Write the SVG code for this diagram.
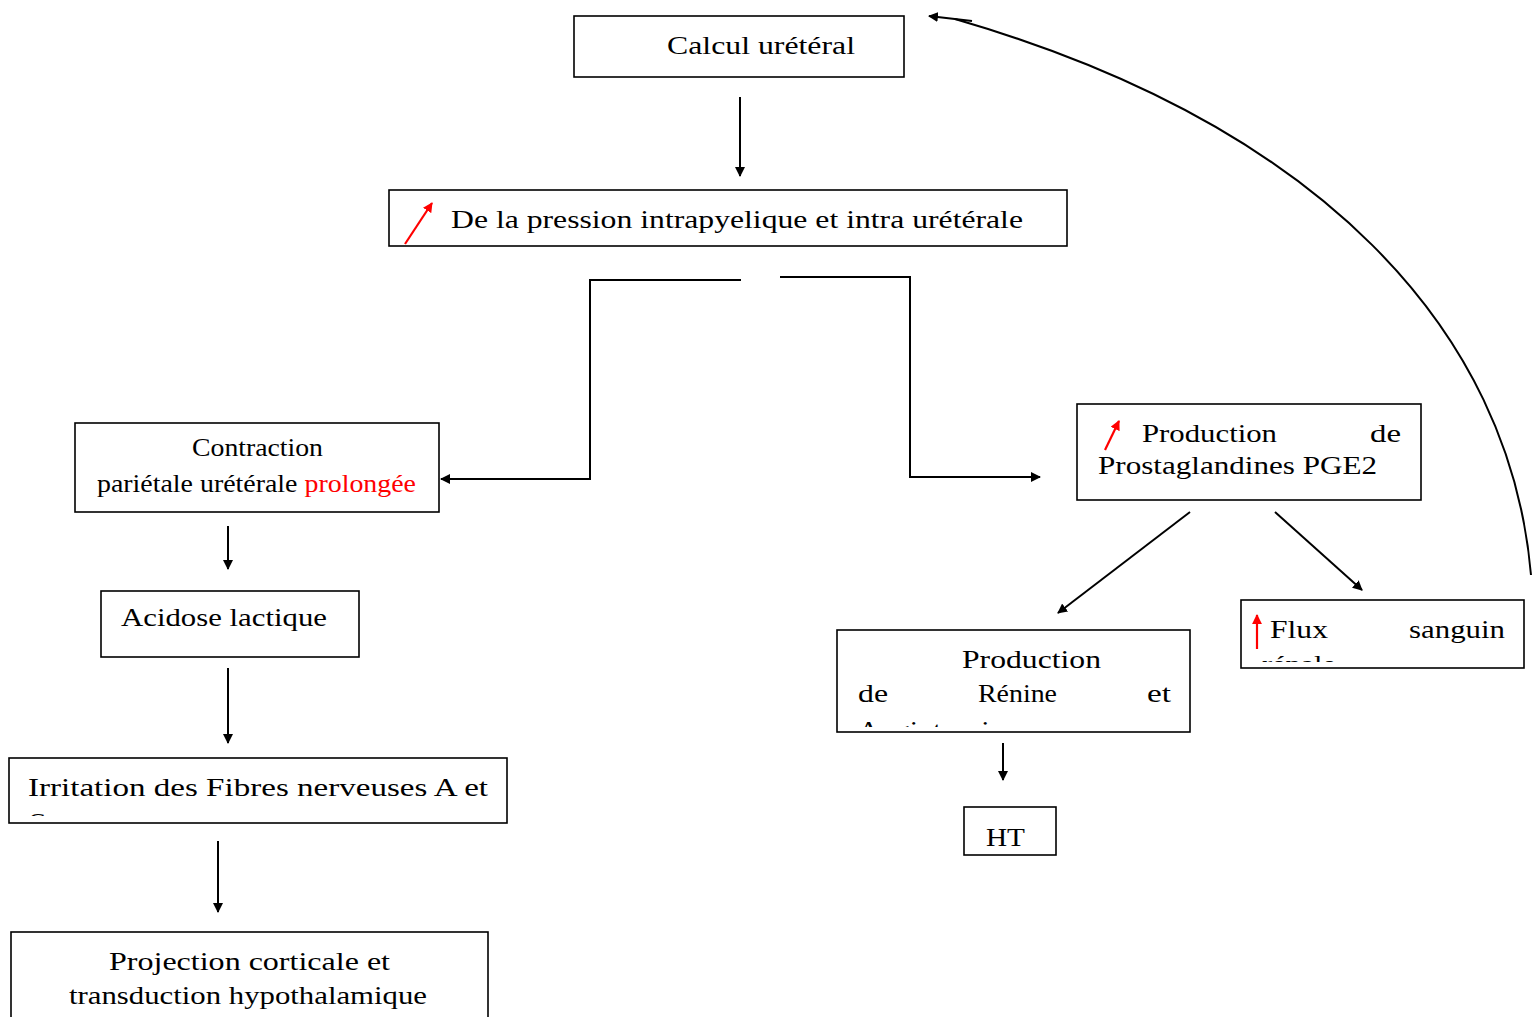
<svg xmlns="http://www.w3.org/2000/svg" width="1532" height="1017" viewBox="0 0 1532 1017">
<style>
.box{fill:#fff;stroke:#000;stroke-width:1.6}
.t{font-family:"Liberation Serif","DejaVu Serif",serif;font-size:26px;fill:#000}
.red{fill:#f00}
.c{fill:none;stroke:#000;stroke-width:2}
.r{fill:none;stroke:#f00;stroke-width:2.2}
</style>
<defs>
<marker id="ah" viewBox="0 0 10 10" refX="9" refY="5" markerWidth="5" markerHeight="5" orient="auto" markerUnits="strokeWidth"><path d="M0,0 L10,5 L0,10 z" fill="#000"/></marker>
<marker id="rh" viewBox="0 0 10 10" refX="9" refY="5" markerWidth="4.5" markerHeight="4.5" orient="auto" markerUnits="strokeWidth"><path d="M0,0 L10,5 L0,10 z" fill="#f00"/></marker>
<clipPath id="cpIrr"><rect x="9" y="758" width="498" height="58"/></clipPath>
<clipPath id="cpRen"><rect x="837" y="630" width="353" height="97"/></clipPath>
<clipPath id="cpFlux"><rect x="1241" y="600" width="283" height="62"/></clipPath>
</defs>

<g id="connectors">
<line class="c" x1="740" y1="97" x2="740" y2="176" marker-end="url(#ah)"/>
<polyline class="c" points="741,280 590,280 590,479 441,479" marker-end="url(#ah)"/>
<polyline class="c" points="780,277 910,277 910,477 1040,477" marker-end="url(#ah)"/>
<line class="c" x1="228" y1="526" x2="228" y2="569" marker-end="url(#ah)"/>
<line class="c" x1="228" y1="668" x2="228" y2="743" marker-end="url(#ah)"/>
<line class="c" x1="218" y1="841" x2="218" y2="912" marker-end="url(#ah)"/>
<line class="c" x1="1190" y1="512" x2="1058" y2="613" marker-end="url(#ah)"/>
<line class="c" x1="1275" y1="512" x2="1362" y2="590" marker-end="url(#ah)"/>
<line class="c" x1="1003" y1="743" x2="1003" y2="780" marker-end="url(#ah)"/>
<path class="c" d="M1531,575 C1510,330 1320,125 955,19"/>
<line class="c" x1="972" y1="21" x2="929" y2="16" marker-end="url(#ah)"/>
</g>

<g id="calcul">
<rect class="box" x="574" y="16" width="330" height="61"/>
<text class="t" x="667" y="54" textLength="188" lengthAdjust="spacingAndGlyphs">Calcul  urétéral</text>
</g>

<g id="pression">
<rect class="box" x="389" y="190" width="678" height="56"/>
<line class="r" x1="405" y1="244" x2="432" y2="203" marker-end="url(#rh)"/>
<text class="t" x="451" y="228" textLength="572" lengthAdjust="spacingAndGlyphs">De  la pression intrapyelique et intra urétérale</text>
</g>

<g id="contraction">
<rect class="box" x="75" y="423" width="364" height="89"/>
<text class="t" x="192" y="456" textLength="131" lengthAdjust="spacingAndGlyphs">Contraction</text>
<text class="t" x="97" y="492" textLength="319" lengthAdjust="spacingAndGlyphs">pariétale urétérale <tspan class="red">prolongée</tspan></text>
</g>

<g id="acidose">
<rect class="box" x="101" y="591" width="258" height="66"/>
<text class="t" x="121" y="626" textLength="206" lengthAdjust="spacingAndGlyphs">Acidose lactique</text>
</g>

<g id="irritation">
<rect class="box" x="9" y="758" width="498" height="65"/>
<g clip-path="url(#cpIrr)">
<text class="t" x="28" y="796" textLength="460" lengthAdjust="spacingAndGlyphs">Irritation des Fibres nerveuses A et</text>
<text class="t" x="28" y="831">C</text>
</g>
</g>

<g id="projection">
<rect class="box" x="11" y="932" width="477" height="100"/>
<text class="t" x="109" y="970" textLength="281" lengthAdjust="spacingAndGlyphs">Projection corticale et</text>
<text class="t" x="69" y="1004" textLength="358" lengthAdjust="spacingAndGlyphs">transduction hypothalamique</text>
</g>

<g id="pge2">
<rect class="box" x="1077" y="404" width="344" height="96"/>
<line class="r" x1="1105" y1="450" x2="1119" y2="421" marker-end="url(#rh)"/>
<text class="t" x="1142" y="442" textLength="135" lengthAdjust="spacingAndGlyphs">Production</text>
<text class="t" x="1370" y="442" textLength="31" lengthAdjust="spacingAndGlyphs">de</text>
<text class="t" x="1098" y="474" textLength="279" lengthAdjust="spacingAndGlyphs">Prostaglandines PGE2</text>
</g>

<g id="renine">
<rect class="box" x="837" y="630" width="353" height="102"/>
<g clip-path="url(#cpRen)">
<text class="t" x="962" y="668" textLength="139" lengthAdjust="spacingAndGlyphs">Production</text>
<text class="t" x="858" y="702" textLength="30" lengthAdjust="spacingAndGlyphs">de</text>
<text class="t" x="978" y="702" textLength="79" lengthAdjust="spacingAndGlyphs">Rénine</text>
<text class="t" x="1147" y="702" textLength="24" lengthAdjust="spacingAndGlyphs">et</text>
<text class="t" x="858" y="739" textLength="160" lengthAdjust="spacingAndGlyphs">Angiotensine</text>
</g>
</g>

<g id="flux">
<rect class="box" x="1241" y="600" width="283" height="68"/>
<line class="r" x1="1257" y1="649" x2="1257" y2="615" marker-end="url(#rh)"/>
<g clip-path="url(#cpFlux)">
<text class="t" x="1270" y="638" textLength="58" lengthAdjust="spacingAndGlyphs">Flux</text>
<text class="t" x="1409" y="638" textLength="96" lengthAdjust="spacingAndGlyphs">sanguin</text>
<text class="t" x="1262" y="673" textLength="74" lengthAdjust="spacingAndGlyphs">rénale</text>
</g>
</g>

<g id="ht">
<rect class="box" x="964" y="807" width="92" height="48"/>
<text class="t" x="986" y="846" textLength="39" lengthAdjust="spacingAndGlyphs">HT</text>
</g>
</svg>
